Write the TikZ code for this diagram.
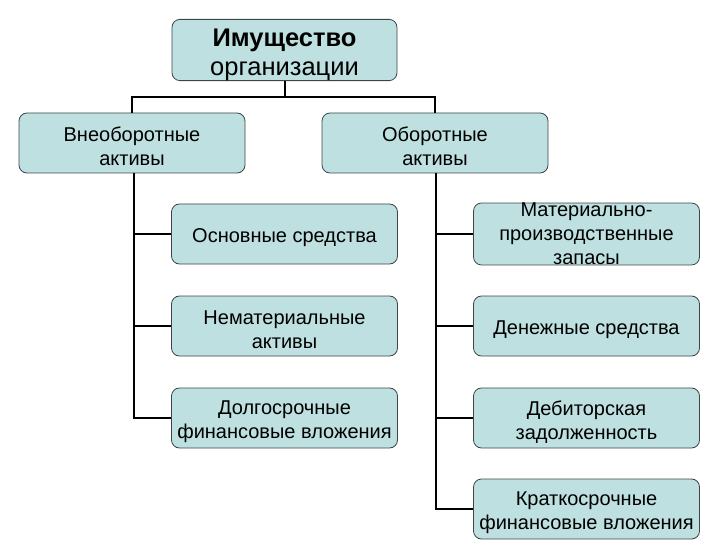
\documentclass[tikz,border=0pt]{standalone}
\usepackage{fontspec}
\setmainfont{Liberation Sans}
\definecolor{boxfill}{RGB}{190,224,224}
\definecolor{boxdraw}{RGB}{60,70,70}
\newcommand\mydown{\rule{0pt}{22pt}}
\begin{document}
\begin{tikzpicture}[x=1pt,y=-1pt,
  box/.style={draw=boxdraw,line width=0.8pt,fill=boxfill,rounded corners=8pt,
    minimum width=226pt,minimum height=60pt,align=center,inner sep=0pt,
    font=\fontsize{20}{24}\selectfont},
  conn/.style={line width=2pt,black}]
\useasboundingbox (0,0) rectangle (720,540);
\node[box,minimum width=225pt,font=\fontsize{25.5}{29}\selectfont] (root) at (284.5,50) {\rule{0pt}{27pt}\textbf{Имущество}\\организации};
\node[box] (vna) at (132,143) {\mydown Внеоборотные\\активы};
\node[box] (oa) at (435,143) {\mydown Оборотные\\активы};
\node[box] (os) at (284.5,234) {\mydown Основные средства};
\node[box] (nma) at (284.5,326) {\mydown Нематериальные\\активы};
\node[box] (dfv) at (284.5,418) {\mydown Долгосрочные\\финансовые вложения};
\node[box] (mpz) at (586.5,234) {Материально-\\производственные\\запасы};
\node[box] (ds) at (586.5,326) {\mydown Денежные средства};
\node[box] (dz) at (586.5,418) {\mydown Дебиторская\\задолженность};
\node[box] (kfv) at (586.5,509) {\mydown Краткосрочные\\финансовые вложения};
\coordinate (hub) at (284.5,97);
\draw[conn] (root.south) -- (hub);
\draw[conn] (vna.north) -- (vna.north |- hub) -- (oa.north |- hub) -- (oa.north);
\coordinate (lx) at (134,0);
\coordinate (rx) at (436,0);
\draw[conn] (lx |- vna.south) -- (lx |- dfv.west) -- (dfv.west);
\draw[conn] (lx |- os.west) -- (os.west);
\draw[conn] (lx |- nma.west) -- (nma.west);
\draw[conn] (rx |- oa.south) -- (rx |- kfv.west) -- (kfv.west);
\draw[conn] (rx |- mpz.west) -- (mpz.west);
\draw[conn] (rx |- ds.west) -- (ds.west);
\draw[conn] (rx |- dz.west) -- (dz.west);
\end{tikzpicture}
\end{document}
